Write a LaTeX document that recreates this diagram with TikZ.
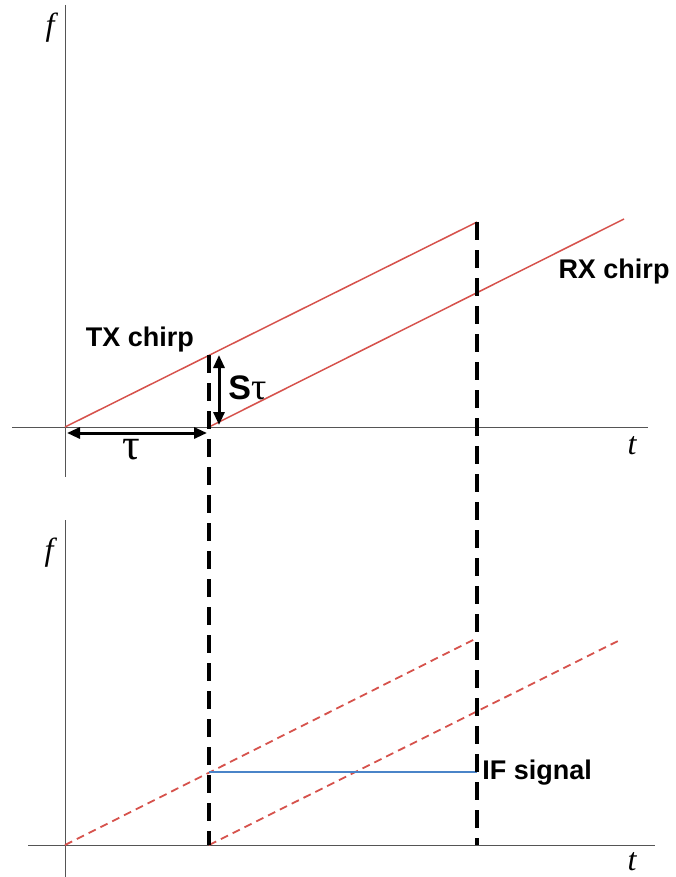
\documentclass[tikz,border=0pt]{standalone}
\usepackage{fontspec}
\setmainfont{Liberation Sans}
\newfontfamily\axisfont{Liberation Serif}
\usetikzlibrary{arrows.meta,positioning}

\definecolor{chirpred}{RGB}{214,82,76}
\definecolor{ifblue}{RGB}{74,132,200}
\definecolor{axisgray}{RGB}{85,85,85}

\begin{document}
\begin{tikzpicture}[x=0.5pt, y=-0.5pt, >={Triangle[length=6.5pt,width=5.5pt]}]
    % Styles
    \tikzstyle{axis} = [draw=axisgray, line width=0.5pt]
    \tikzstyle{chirp} = [draw=chirpred, line width=0.75pt]
    \tikzstyle{chirpdash} = [chirp, line width=0.9pt, dash pattern=on 4pt off 2.6pt]
    \tikzstyle{marker} = [draw=black, line width=1.6pt, dash pattern=on 9pt off 5pt]
    \tikzstyle{span} = [draw, line width=1.5pt, <->]
    \tikzstyle{lbl} = [font=\bfseries\fontsize{13.5}{16}\selectfont, inner sep=0pt]
    \tikzstyle{axlbl} = [font=\axisfont\itshape\fontsize{16}{18}\selectfont, inner sep=0pt]

    \useasboundingbox (0,0) rectangle (675,877);

    % Coordinates
    \coordinate (O1) at (65,427);
    \coordinate (tx1) at (477,222);
    \coordinate (rx1s) at (209,427);
    \coordinate (rx1e) at (624,219);
    \coordinate (O2) at (65,845);
    \coordinate (tx2) at (477,638);
    \coordinate (rx2s) at (209,845);
    \coordinate (rx2e) at (620,640);
    \coordinate (m1top) at (209,355);
    \coordinate (m1bot) at (209,845);
    \coordinate (m2top) at (477,222);
    \coordinate (m2bot) at (477,845);
    \coordinate (ifs) at (209,772);
    \coordinate (ife) at (477,772);

    % Axes
    \path [axis] (12,427) -- (648,427);
    \path [axis] (65,5) -- (65,477);
    \path [axis] (28,845) -- (655,845);
    \path [axis] (65,520) -- (65,877);
    \node [axlbl] (f1) at (50,28) {f};
    \node [axlbl] (t1) at (632,446) {t};
    \node [axlbl] (f2) at (49,553) {f};
    \node [axlbl] (t2) at (632,862) {t};

    % Chirps
    \path [chirp] (O1) -- (tx1);
    \path [chirp] (rx1s) -- (rx1e);
    \path [chirpdash] (O2) -- (tx2);
    \path [chirpdash] (rx2s) -- (rx2e);
    \draw [ifblue, line width=0.75pt] (ifs) -- (ife);

    % Delay markers
    \path [marker] (m1top) -- (m1bot);
    \path [marker] (m2top) -- (m2bot);
    \coordinate (st1) at (219,355);
    \coordinate (st2) at (219,425);
    \coordinate (ta1) at (67,433);
    \coordinate (ta2) at (207,433);
    \path [span] (st1) -- (st2);
    \path [span] (ta1) -- (ta2);

    % Labels
    \node [lbl] (txlbl) at (140,340) {TX chirp};
    \node [lbl] (rxlbl) at (614,272) {RX chirp};
    \node [lbl, anchor=west] (iflbl) at (482,773) {IF signal};
    \node [lbl, anchor=west, font=\bfseries\fontsize{17}{20}\selectfont] (stlbl) at (228,388) {S{\axisfont\mdseries\fontsize{19}{20}\selectfont τ}};
    \node [inner sep=0pt, font=\axisfont\fontsize{22}{24}\selectfont] (taulbl) at (131,450) {τ};
\end{tikzpicture}
\end{document}
